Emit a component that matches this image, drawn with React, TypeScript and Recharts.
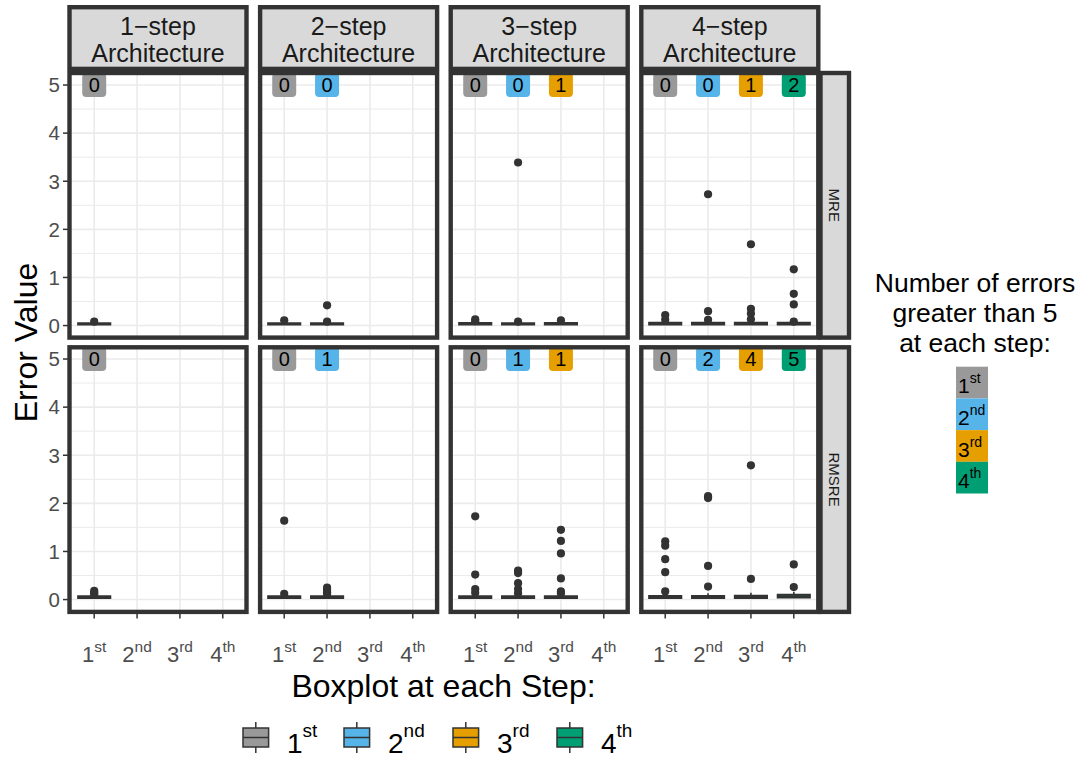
import {
  ComposedChart,
  XAxis,
  YAxis,
  CartesianGrid,
  Scatter,
  ReferenceArea,
  ReferenceLine,
} from "recharts";

const steps = ["1st", "2nd", "3rd", "4th"];
const stepColors = ["#999999", "#56B4E9", "#E69F00", "#009E73"];
const architectures = ["1−step", "2−step", "3−step", "4−step"];
const metrics = ["MRE", "RMSRE"];

// box stats per architecture, one entry per step: [lower, q1, median, q3, upper]
const mreBoxes = [
  [[0.0, 0.02, 0.035, 0.05, 0.08]],
  [[0.0, 0.02, 0.035, 0.05, 0.09], [0.0, 0.02, 0.035, 0.05, 0.08]],
  [[0.0, 0.02, 0.035, 0.055, 0.1], [0.0, 0.02, 0.035, 0.05, 0.09], [0.0, 0.02, 0.035, 0.055, 0.1]],
  [[0.0, 0.02, 0.04, 0.06, 0.1], [0.0, 0.02, 0.04, 0.06, 0.1], [0.0, 0.02, 0.04, 0.06, 0.11], [0.0, 0.02, 0.04, 0.06, 0.11]],
];
const rmsreBoxes = [
  [[0.0, 0.035, 0.05, 0.07, 0.11]],
  [[0.0, 0.035, 0.05, 0.07, 0.1], [0.0, 0.035, 0.05, 0.07, 0.11]],
  [[0.0, 0.035, 0.05, 0.07, 0.11], [0.0, 0.035, 0.05, 0.07, 0.11], [0.0, 0.035, 0.05, 0.07, 0.11]],
  [[0.0, 0.035, 0.05, 0.075, 0.13], [0.0, 0.035, 0.05, 0.075, 0.13], [0.0, 0.035, 0.055, 0.08, 0.14], [0.0, 0.045, 0.065, 0.1, 0.16]],
];

// points beyond the whiskers
const mreOutliers = [
  [[0.08]],
  [[0.11], [0.42, 0.08]],
  [[0.13, 0.09], [3.39, 0.08], [0.11]],
  [[0.22, 0.12], [2.73, 0.3, 0.12], [1.69, 0.35, 0.25, 0.13], [1.17, 0.66, 0.44, 0.08]],
];
const rmsreOutliers = [
  [[0.18, 0.14, 0.11]],
  [[1.64, 0.12], [0.25, 0.2, 0.15, 0.12]],
  [[1.73, 0.52, 0.22, 0.14], [0.6, 0.55, 0.34, 0.22, 0.13], [1.45, 1.22, 0.96, 0.44, 0.17, 0.13]],
  [[1.21, 1.12, 0.84, 0.57, 0.17], [2.15, 2.11, 0.7, 0.27], [2.79, 0.43], [0.73, 0.26]],
];

// how many errors fell above the plotted range (y > 5)
const mreOver5 = [[0], [0, 0], [0, 0, 1], [0, 0, 1, 2]];
const rmsreOver5 = [[0], [0, 1], [0, 1, 1], [0, 2, 4, 5]];

const majorY = [0, 1, 2, 3, 4, 5];
const minorY = [0.5, 1.5, 2.5, 3.5, 4.5];
const stepPos = [1, 2, 3, 4];

const FONT = '"Liberation Sans", Arial, sans-serif';
const INK = "#333333";
const GRID = "#EBEBEB";

const PANEL_X0 = 69.5;
const PANEL_STEP = 190.6;
const PANEL_W = 177;
const PANEL_H = 264.6;
const ROW_TOP = [73, 347.3];
const Y_AXIS_W = 60;
const X_AXIS_H = 70;
const BORDER = 4.4;
const BOX_HALF = 0.375;

const outlierDot = (p: any) => <circle cx={p.cx} cy={p.cy} r={4.1} fill={INK} />;

const CountBadge = (p: any) => (
  <g>
    <rect x={p.cx - 12} y={p.cy - 12} width={24} height={24} rx={4} fill={p.payload.fill} />
    <text x={p.cx} y={p.cy + 7} textAnchor="middle" fontSize={20} fontFamily={FONT} fill="#000">
      {p.payload.n}
    </text>
  </g>
);

function StepTick({ x, y, payload }: any) {
  const label = steps[payload.value - 1];
  return (
    <text x={x} y={y + 41} textAnchor="middle" fill="#4D4D4D" fontFamily={FONT}>
      <tspan fontSize={22}>{label.slice(0, 1)}</tspan>
      <tspan fontSize={15.5} dy={-10}>{label.slice(1)}</tspan>
    </text>
  );
}

function Panel({ row, col }: { row: number; col: number }) {
  const boxes = (row === 0 ? mreBoxes : rmsreBoxes)[col];
  const outliers = (row === 0 ? mreOutliers : rmsreOutliers)[col];
  const over5 = (row === 0 ? mreOver5 : rmsreOver5)[col];
  const points = outliers.flatMap((vals, i) => vals.map((v) => ({ x: i + 1, y: v })));
  const badges = over5.map((n, i) => ({ x: i + 1, y: 5, n, fill: stepColors[i] }));
  const showY = col === 0;
  const showX = row === 1;
  const w = PANEL_W + (showY ? Y_AXIS_W : 0);
  const h = PANEL_H + (showX ? X_AXIS_H : 0);

  return (
    <div
      style={{
        position: "absolute",
        left: PANEL_X0 + col * PANEL_STEP - (showY ? Y_AXIS_W : 0),
        top: ROW_TOP[row],
      }}
    >
      <ComposedChart width={w} height={h} margin={{ top: 0, right: 0, bottom: 0, left: 0 }}>
        <XAxis
          type="number"
          dataKey="x"
          domain={[0.435, 4.565]}
          ticks={stepPos}
          allowDataOverflow
          hide={!showX}
          height={X_AXIS_H}
          axisLine={false}
          tickSize={7}
          tickLine={{ stroke: INK, strokeWidth: 1.5 }}
          tick={<StepTick />}
        />
        <YAxis
          type="number"
          dataKey="y"
          domain={[-0.25, 5.25]}
          ticks={majorY}
          allowDataOverflow
          hide={!showY}
          width={Y_AXIS_W}
          axisLine={false}
          tickSize={7}
          tickMargin={3}
          tickLine={{ stroke: INK, strokeWidth: 1.5 }}
          tick={{ fill: "#4D4D4D", fontSize: 20.5, fontFamily: FONT }}
        />
        <CartesianGrid horizontalValues={minorY} vertical={false} stroke={GRID} strokeWidth={1} />
        <CartesianGrid horizontalValues={majorY} verticalValues={stepPos} stroke={GRID} strokeWidth={1.6} />
        {boxes.map(([lo, q1, med, q3, hi], i) => (
          <ReferenceArea
            key={`box${i}`}
            x1={i + 1 - BOX_HALF}
            x2={i + 1 + BOX_HALF}
            y1={q1}
            y2={q3}
            fill={stepColors[i]}
            fillOpacity={1}
            stroke={INK}
            strokeWidth={2}
          />
        ))}
        {boxes.map(([lo, q1, med, q3, hi], i) => (
          <ReferenceLine
            key={`med${i}`}
            segment={[
              { x: i + 1 - BOX_HALF, y: med },
              { x: i + 1 + BOX_HALF, y: med },
            ]}
            stroke={INK}
            strokeWidth={2}
          />
        ))}
        {boxes.map(([lo, q1, med, q3, hi], i) => (
          <ReferenceLine
            key={`whi${i}`}
            segment={[
              { x: i + 1, y: q3 },
              { x: i + 1, y: hi },
            ]}
            stroke={INK}
            strokeWidth={1.6}
          />
        ))}
        <Scatter data={points} shape={outlierDot} isAnimationActive={false} />
        <Scatter data={badges} shape={CountBadge} isAnimationActive={false} />
      </ComposedChart>
    </div>
  );
}

function Frame() {
  const legendX = [243, 344, 453, 557];
  const titleLines = ["Number of errors", "greater than 5", "at each step:"];
  return (
    <svg
      width={1085}
      height={758}
      style={{ position: "absolute", left: 0, top: 0, pointerEvents: "none" }}
      fontFamily={FONT}
    >
      {/* panel borders */}
      {[0, 1].map((r) =>
        architectures.map((_, c) => (
          <rect
            key={`pb${r}${c}`}
            x={PANEL_X0 + c * PANEL_STEP}
            y={ROW_TOP[r]}
            width={PANEL_W}
            height={PANEL_H}
            fill="none"
            stroke={INK}
            strokeWidth={BORDER}
          />
        ))
      )}
      {/* column strips */}
      {architectures.map((a, c) => {
        const x = PANEL_X0 + c * PANEL_STEP;
        return (
          <g key={`cs${c}`}>
            <rect x={x} y={7.2} width={PANEL_W} height={61.7} fill="#D9D9D9" stroke={INK} strokeWidth={BORDER} />
            <text x={x + PANEL_W / 2} y={35} textAnchor="middle" fontSize={25} fill="#1A1A1A">
              {a}
            </text>
            <text x={x + PANEL_W / 2} y={61.5} textAnchor="middle" fontSize={25} fill="#1A1A1A">
              Architecture
            </text>
          </g>
        );
      })}
      {/* row strips */}
      {metrics.map((m, r) => {
        const cy = ROW_TOP[r] + PANEL_H / 2;
        return (
          <g key={`rs${r}`}>
            <rect x={820.5} y={ROW_TOP[r]} width={28.5} height={PANEL_H} fill="#D9D9D9" stroke={INK} strokeWidth={BORDER} />
            <text
              x={834.7}
              y={cy}
              dy="0.35em"
              textAnchor="middle"
              fontSize={15}
              fill="#1A1A1A"
              transform={`rotate(90 834.7 ${cy})`}
            >
              {m}
            </text>
          </g>
        );
      })}
      {/* axis titles */}
      <text x={37} y={342.5} textAnchor="middle" fontSize={32} fill="#000" transform="rotate(-90 37 342.5)">
        Error Value
      </text>
      <text x={443.5} y={697} textAnchor="middle" fontSize={32} fill="#000">
        Boxplot at each Step:
      </text>
      {/* step legend */}
      {steps.map((s, i) => {
        const x = legendX[i];
        return (
          <g key={`lg${i}`}>
            <line x1={x + 12.8} x2={x + 12.8} y1={722} y2={753} stroke={INK} strokeWidth={1.5} />
            <rect x={x} y={728} width={25.6} height={19} fill={stepColors[i]} stroke={INK} strokeWidth={1.5} />
            <line x1={x} x2={x + 25.6} y1={737.5} y2={737.5} stroke={INK} strokeWidth={1.5} />
            <text x={x + 44} y={753} fontSize={28} fill="#000">
              <tspan>{s.slice(0, 1)}</tspan>
              <tspan fontSize={19} dy={-16}>
                {s.slice(1)}
              </tspan>
            </text>
          </g>
        );
      })}
      {/* count legend */}
      {titleLines.map((t, i) => (
        <text key={`tl${i}`} x={975} y={292 + i * 30} textAnchor="middle" fontSize={26.5} fill="#000">
          {t}
        </text>
      ))}
      {steps.map((s, i) => (
        <g key={`cl${i}`}>
          <rect x={956} y={366.7 + i * 31.7} width={32} height={31.7} fill={stepColors[i]} />
          <text x={958} y={393.3 + i * 31.7} fontSize={21} fill="#000">
            <tspan>{s.slice(0, 1)}</tspan>
            <tspan fontSize={14} dy={-10}>
              {s.slice(1)}
            </tspan>
          </text>
        </g>
      ))}
    </svg>
  );
}

export default function App() {
  return (
    <div
      style={{
        position: "absolute",
        left: 0,
        top: 0,
        width: 1085,
        height: 758,
        background: "#fff",
        fontFamily: FONT,
      }}
    >
      {[0, 1].map((r) => architectures.map((_, c) => <Panel key={`p${r}${c}`} row={r} col={c} />))}
      <Frame />
    </div>
  );
}
